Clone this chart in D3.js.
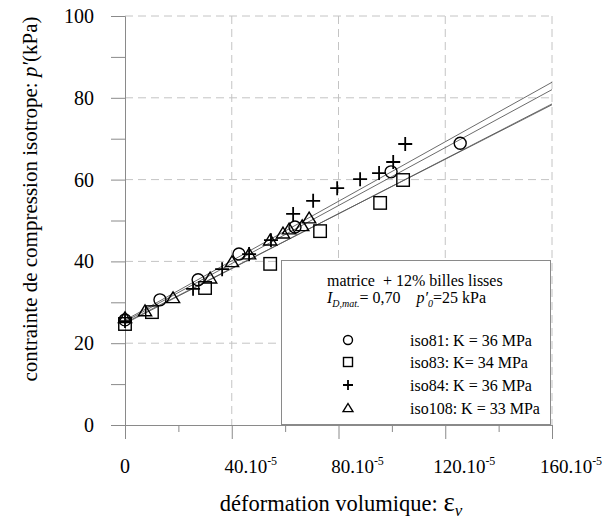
<!DOCTYPE html>
<html><head><meta charset="utf-8">
<script src="https://cdn.jsdelivr.net/npm/d3@7"></script>
<style>body{margin:0;background:#fff}</style>
</head><body><svg id="c" width="610" height="523"></svg>
<script>
// ---- data (ε in 1e-5 units, p' in kPa) ----
const seriesNames = ["iso81", "iso83", "iso84", "iso108"];
const legendLabels = ["iso81: K = 36 MPa", "iso83: K= 34 MPa", "iso84: K = 36 MPa", "iso108: K = 33 MPa"];
const symbols = ["circle", "square", "plus", "triangle"];

const iso81Eps = [0, 13.1, 27.4, 42.7, 63.7, 99.7, 125.6];
const iso81P   = [25.7, 30.6, 35.5, 41.8, 48.4, 61.9, 68.9];
const iso83Eps = [0, 10.1, 30.0, 54.4, 73.1, 95.6, 104.2];
const iso83P   = [24.7, 27.6, 33.5, 39.4, 47.4, 54.3, 59.9];
const iso84Eps = [0, 25.5, 36.4, 46.5, 54.7, 63.0, 70.5, 79.5, 88.1, 95.2, 100.5, 105.0];
const iso84P   = [25.4, 33.3, 38.1, 41.8, 45.2, 51.6, 54.8, 57.9, 60.1, 61.6, 64.3, 68.7];
const iso108Eps = [0, 7.5, 18.0, 31.9, 40.1, 46.5, 54.4, 59.2, 61.5, 66.4, 69.0];
const iso108P   = [26.2, 27.9, 31.1, 35.9, 39.9, 41.8, 45.2, 46.9, 47.9, 48.7, 50.6];

// linear fits: value of p' at ε = 0 and at ε = 160e-5
const fitEpsRange = [0, 160];
const fitStart = [25.3, 24.8, 25.6, 25.0];
const fitEnd   = [82.0, 78.5, 83.8, 78.3];

const xTicks = [0, 40, 80, 120, 160];
const xMinor = [20, 60, 100, 140];
const yTicks = [0, 20, 40, 60, 80, 100];
const yMinor = [10, 30, 50, 70, 90];

// ---- drawing ----
const FONT = "'Liberation Serif', Tinos, 'Times New Roman', 'DejaVu Serif', serif";
const svg = d3.select("#c").attr("font-family", FONT);
const L = 125, R = 552, T = 16, B = 425;
const x = d3.scaleLinear().domain([0, 160]).range([L, R]);
const y = d3.scaleLinear().domain([0, 100]).range([B, T]);
const axisCol = "#8a8a8a";

svg.append("rect").attr("width", 610).attr("height", 523).attr("fill", "#fff");

// grid
const grid = svg.append("g").attr("stroke", "#c4c4c4").attr("stroke-width", 1).attr("stroke-dasharray", "8,5");
grid.selectAll(".gx").data(xTicks.slice(1)).join("line")
  .attr("x1", d => x(d)).attr("x2", d => x(d)).attr("y1", T).attr("y2", B);
grid.selectAll(".gy").data(yTicks.slice(1)).join("line")
  .attr("x1", L).attr("x2", R).attr("y1", d => y(d)).attr("y2", d => y(d));

// axes
const xAxis = d3.axisBottom(x).tickValues(xTicks).tickSize(14).tickFormat("");
const xAxisMinor = d3.axisBottom(x).tickValues(xMinor).tickSize(7).tickFormat("");
const yAxis = d3.axisLeft(y).tickValues(yTicks.concat(yMinor)).tickSize(14).tickFormat("");
function styleAxis(g){ g.select(".domain").attr("stroke", axisCol); g.selectAll(".tick line").attr("stroke", axisCol); }
svg.append("g").attr("transform", `translate(0,${B})`).call(xAxis).call(styleAxis);
svg.append("g").attr("transform", `translate(0,${B})`).call(xAxisMinor).call(styleAxis).select(".domain").remove();
svg.append("g").attr("transform", `translate(${L},0)`).call(yAxis).call(styleAxis);

// tick labels
svg.append("g").selectAll("text").data(yTicks).join("text")
  .attr("x", 94).attr("y", d => y(d)).attr("dy", "0.35em").attr("font-family", FONT)
  .attr("text-anchor", "end").attr("font-size", 20).text(d => d);
const xl = svg.append("g").selectAll("text").data(xTicks).join("text")
  .attr("x", d => d === 0 ? x(d) : x(d) + 19).attr("y", 473).attr("font-family", FONT)
  .attr("text-anchor", "middle").attr("font-size", 19);
xl.each(function(d){
  const t = d3.select(this);
  if (d === 0) { t.attr("font-size", 20).text("0"); return; }
  t.append("tspan").text(d + ".10");
  t.append("tspan").attr("font-size", 12).attr("dy", -8).text("-5");
});

// fit lines
const line = d3.line().x(d => x(d[0])).y(d => y(d[1]));
svg.append("g").selectAll("path").data(seriesNames).join("path")
  .attr("d", (s, i) => line([[fitEpsRange[0], fitStart[i]], [fitEpsRange[1], fitEnd[i]]]))
  .attr("fill", "none").attr("stroke", "#5a5a5a").attr("stroke-width", 0.9);

// markers
function drawSym(g, type, cx, cy, s) {
  let el;
  if (type === "circle") el = g.append("circle").attr("cx", cx).attr("cy", cy).attr("r", s/2);
  else if (type === "square") el = g.append("rect").attr("x", cx - s/2).attr("y", cy - s/2).attr("width", s).attr("height", s);
  else if (type === "plus") el = g.append("path").attr("d", `M${cx - s/2},${cy}H${cx + s/2}M${cx},${cy - s/2}V${cy + s/2}`);
  else el = g.append("path").attr("d", `M${cx},${cy - s*0.5}L${cx + s*0.55},${cy + s*0.4}L${cx - s*0.55},${cy + s*0.4}Z`);
  el.attr("stroke", "#000").attr("fill", "none").attr("stroke-width", type === "plus" ? 1.8 : 1.4);
}
const allEps = [iso81Eps, iso83Eps, iso84Eps, iso108Eps];
const allP = [iso81P, iso83P, iso84P, iso108P];
const sizes = [12, 12.5, 14, 12];
const mg = svg.append("g");
seriesNames.forEach((s, i) => {
  allEps[i].forEach((e, j) => drawSym(mg, symbols[i], x(e), y(allP[i][j]), sizes[i]));
});

// legend
const lg = svg.append("g");
lg.append("rect").attr("x", 281.5).attr("y", 260.5).attr("width", 269).attr("height", 164)
  .attr("fill", "#fff").attr("stroke", axisCol).attr("stroke-width", 1);
lg.append("text").attr("x", 327).attr("y", 286).attr("font-size", 16).attr("font-family", FONT)
  .style("white-space", "pre").text("matrice  + 12% billes lisses");
const l2 = lg.append("text").attr("x", 327).attr("y", 303).attr("font-size", 16).attr("font-family", FONT).style("white-space", "pre");
l2.append("tspan").attr("font-style", "italic").text("I");
l2.append("tspan").attr("font-style", "italic").attr("font-size", 10).attr("dy", 4).text("D,mat.");
l2.append("tspan").attr("dy", -4).text("= 0,70    ");
l2.append("tspan").attr("font-style", "italic").text("p′");
l2.append("tspan").attr("font-style", "italic").attr("font-size", 10).attr("dy", 4).text("0");
l2.append("tspan").attr("dy", -4).text("=25 kPa");
const rowY = [340, 362, 385, 408];
const legSizes = [9, 9, 10, 9];
seriesNames.forEach((s, i) => {
  drawSym(lg, symbols[i], 348, rowY[i], legSizes[i]);
  lg.append("text").attr("x", 410).attr("y", rowY[i] + 6).attr("font-size", 16).attr("font-family", FONT).text(legendLabels[i]);
});

// axis titles
const yt = svg.append("text").attr("transform", "translate(37,199) rotate(-90)").attr("font-family", FONT)
  .attr("text-anchor", "middle").attr("font-size", 21);
yt.append("tspan").text("contrainte de compression isotrope: ");
yt.append("tspan").attr("font-style", "italic").text("p′");
yt.append("tspan").text("(kPa)");
const xt = svg.append("text").attr("x", 341).attr("y", 511).attr("text-anchor", "middle").attr("font-size", 22.5).attr("font-family", FONT);
xt.append("tspan").text("déformation volumique: ");
xt.append("tspan").attr("font-size", 27).text("ε");
xt.append("tspan").attr("font-style", "italic").attr("font-size", 17).attr("dy", 5).text("v");
</script></body></html>
